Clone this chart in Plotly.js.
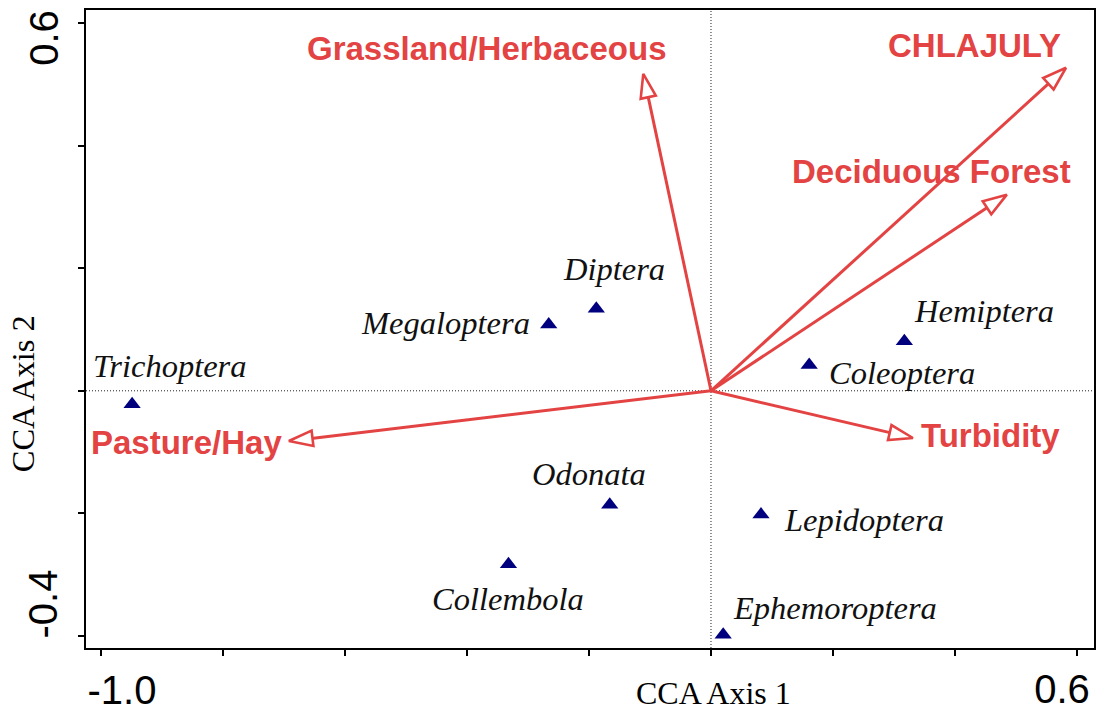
<!DOCTYPE html>
<html><head><meta charset="utf-8">
<script src="https://cdn.plot.ly/plotly-3.0.1.min.js"></script>
<style>html,body{margin:0;padding:0;background:#fff}#chart{width:1097px;height:713px}</style>
</head><body><div id="chart"></div>
<script>
// ---- Species scores (triangles) ----
const speciesNames = ['Trichoptera','Megaloptera','Diptera','Hemiptera','Coleoptera','Odonata','Lepidoptera','Collembola','Ephemoroptera'];
const speciesAxis1 = [-0.949, -0.266, -0.188, 0.317, 0.161, -0.166, 0.082, -0.332, 0.020];
const speciesAxis2 = [-0.022, 0.108, 0.134, 0.081, 0.042, -0.186, -0.202, -0.283, -0.398];

// ---- Environmental variables (biplot arrows) ----
const envNames = ['Grassland/Herbaceous','CHLAJULY','Deciduous Forest','Turbidity','Pasture/Hay'];
const envAxis1 = [-0.111, 0.582, 0.485, 0.331, -0.692];
const envAxis2 = [0.517, 0.527, 0.320, -0.077, -0.082];

// ---- Axis ticks ----
const xTickVals = [-1.0, -0.8, -0.6, -0.4, -0.2, 0.0, 0.2, 0.4, 0.6];
const xTickText = ['-1.0', '', '', '', '', '', '', '', '0.6'];
const yTickVals = [-0.4, -0.2, 0.0, 0.2, 0.4, 0.6];
const yTickText = ['-0.4', '', '', '', '', '0.6'];
const xTitle = 'CCA Axis 1';
const yTitle = 'CCA Axis 2';

// ---- Styling (label offsets in px, colours, fonts) ----
const RED = '#e34342';
const NAVY = '#00007f';
const speciesLabelShift = {
  'Trichoptera': [38, 38], 'Megaloptera': [-103, 2], 'Diptera': [18, 40],
  'Hemiptera': [80, 30], 'Coleoptera': [93, -8], 'Odonata': [-21, 31],
  'Lepidoptera': [103, -5], 'Collembola': [0, -35], 'Ephemoroptera': [112, 27]
};
const envLabelShift = {
  'Grassland/Herbaceous': [-156.5, 25], 'CHLAJULY': [-92, 22],
  'Deciduous Forest': [-75.5, 23.5], 'Turbidity': [78, 2], 'Pasture/Hay': [-102, -1]
};
const X_RANGE = [-1.0246, 0.6279];
const Y_RANGE = [-0.4196, 0.6212];

// near-end labels on the main axes, far-end labels on overlay axes (each shifted along its axis)
const firstOnly = arr => arr.map((t, i) => i === 0 ? t : '');
const lastOnly = arr => arr.map((t, i) => i === arr.length - 1 ? t : '');

const traces = [];
envNames.forEach((n, i) => {
  traces.push({
    type: 'scatter', mode: 'lines+markers',
    x: [0, envAxis1[i]], y: [0, envAxis2[i]],
    line: {color: RED, width: 3},
    marker: {symbol: ['circle', 'arrow'], size: [0, 25], color: '#ffffff', opacity: 1,
             line: {color: RED, width: 2.6}, angleref: 'previous'},
    hoverinfo: 'skip', showlegend: false, cliponaxis: false
  });
});
traces.push({
  type: 'scatter', mode: 'markers', x: speciesAxis1, y: speciesAxis2, text: speciesNames,
  marker: {symbol: 'triangle-up', size: 15, color: NAVY},
  showlegend: false, hoverinfo: 'text'
});
// invisible carriers so the overlay axes get drawn
traces.push({type: 'scatter', mode: 'markers', x: [0], y: [0], xaxis: 'x2', yaxis: 'y',
             marker: {size: 1, opacity: 0}, hoverinfo: 'skip', showlegend: false});
traces.push({type: 'scatter', mode: 'markers', x: [0], y: [0], xaxis: 'x', yaxis: 'y2',
             marker: {size: 1, opacity: 0}, hoverinfo: 'skip', showlegend: false});

const annotations = [];
speciesNames.forEach((n, i) => {
  annotations.push({
    x: speciesAxis1[i], y: speciesAxis2[i], xref: 'x', yref: 'y', text: n, showarrow: false,
    xshift: speciesLabelShift[n][0], yshift: speciesLabelShift[n][1],
    font: {family: 'Liberation Serif, Times New Roman, serif', size: 32.5, style: 'italic', color: '#111'}
  });
});
envNames.forEach((n, i) => {
  annotations.push({
    x: envAxis1[i], y: envAxis2[i], xref: 'x', yref: 'y', text: n, showarrow: false,
    xshift: envLabelShift[n][0], yshift: envLabelShift[n][1],
    font: {family: 'Liberation Sans, Arial, sans-serif', size: 33, weight: 700, color: RED}
  });
});
annotations.push({
  x: 0, y: -0.071, xref: 'x', yref: 'paper', text: xTitle, showarrow: false, xshift: 3,
  yanchor: 'middle', font: {family: 'Liberation Serif, Times New Roman, serif', size: 32, color: '#000'}
});
annotations.push({
  x: -0.063, y: 0, xref: 'paper', yref: 'y', text: yTitle, showarrow: false, textangle: -90, yshift: -3,
  xanchor: 'center', font: {family: 'Liberation Serif, Times New Roman, serif', size: 32.5, color: '#000'}
});

const tickFont = {family: 'Liberation Sans, Arial, sans-serif', size: 40, color: '#000'};
const axisCommon = {
  showgrid: false, zeroline: false, showline: true, mirror: true, linewidth: 2, linecolor: '#000',
  ticks: 'outside', ticklen: 6, tickwidth: 2, tickcolor: '#000', tickmode: 'array',
  ticklabeloverflow: 'allow', tickfont: tickFont
};
const overlayCommon = {
  showgrid: false, zeroline: false, showline: false, ticks: 'outside', ticklen: 6, tickwidth: 2,
  tickcolor: 'rgba(0,0,0,0)', tickmode: 'array', ticklabeloverflow: 'allow', tickfont: tickFont
};

const layout = {
  width: 1097, height: 713,
  margin: {l: 86, r: 3, t: 10, b: 65},
  paper_bgcolor: '#fff', plot_bgcolor: '#fff',
  showlegend: false,
  xaxis: Object.assign({}, axisCommon, {range: X_RANGE, tickvals: xTickVals, ticktext: firstOnly(xTickText),
                                         ticklabelshift: 21}),
  xaxis2: Object.assign({}, overlayCommon, {overlaying: 'x', anchor: 'y', side: 'bottom', range: X_RANGE,
                                             tickvals: xTickVals, ticktext: lastOnly(xTickText), ticklabelshift: -15}),
  yaxis: Object.assign({}, axisCommon, {range: Y_RANGE, tickvals: yTickVals, ticktext: firstOnly(yTickText),
                                         tickangle: -90, ticklabelstandoff: 5, ticklabelshift: -26}),
  yaxis2: Object.assign({}, overlayCommon, {overlaying: 'y', anchor: 'x', side: 'left', range: Y_RANGE,
                                             tickvals: yTickVals, ticktext: lastOnly(yTickText),
                                             tickangle: -90, ticklabelstandoff: 5, ticklabelshift: 21}),
  shapes: [
    {type: 'line', xref: 'x', yref: 'paper', x0: 0, x1: 0, y0: 0, y1: 1, layer: 'below',
     line: {color: '#222', width: 1, dash: '1px,2px'}},
    {type: 'line', xref: 'paper', yref: 'y', x0: 0, x1: 1, y0: 0, y1: 0, layer: 'below',
     line: {color: '#222', width: 1, dash: '1px,2px'}}
  ],
  annotations: annotations
};

Plotly.newPlot('chart', traces, layout, {displayModeBar: false, staticPlot: true});
</script>
</body></html>
